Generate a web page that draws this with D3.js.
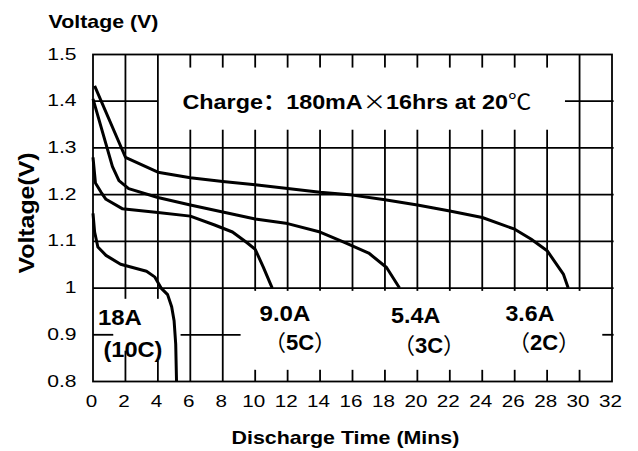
<!DOCTYPE html>
<html><head><meta charset="utf-8">
<script src="https://cdn.jsdelivr.net/npm/d3@7/dist/d3.min.js"></script>
<style>body{margin:0;background:#fff}svg{display:block}</style>
</head><body>
<svg id="c" width="638" height="451"></svg>
<script>
// ---------- data ----------
const xTickValues = [0,2,4,6,8,10,12,14,16,18,20,22,24,26,28,30,32];
const xTickLabels = ["0","2","4","6","8","10","12","14","16","18","20","22","24","26","28","30","32"];
const yTickValues = [0.8,0.9,1.0,1.1,1.2,1.3,1.4,1.5];
const yTickLabels = ["0.8","0.9","1","1.1","1.2","1.3","1.4","1.5"];

// 18A (10C)
const t18 = [0,0.1,0.3,0.8,1.7,3.3,3.8,4.2,4.6,4.85,5.0,5.1,5.15];
const v18 = [1.16,1.12,1.088,1.07,1.051,1.036,1.024,1.0,0.986,0.96,0.93,0.88,0.8];
// 9.0A (5C)
const t90 = [0,0.15,0.5,0.8,1.8,4,6,7.5,8.6,9.5,10,10.5,11.05];
const v90 = [1.28,1.225,1.205,1.19,1.17,1.162,1.154,1.135,1.12,1.097,1.083,1.045,1.0];
// 5.4A (3C)
const t54 = [0,1.2,1.6,2.2,4,6,8,10,12,14,15.5,17,18.1,18.9];
const v54 = [1.405,1.26,1.23,1.213,1.194,1.178,1.163,1.148,1.138,1.12,1.098,1.075,1.044,1.0];
// 3.6A (2C)
const t36 = [0.1,2,4,6,8,10,12,14,16,18,20,22,24,26,27,28,29,29.3];
const v36 = [1.433,1.28,1.248,1.236,1.228,1.221,1.213,1.205,1.199,1.189,1.178,1.165,1.151,1.126,1.105,1.08,1.03,1.0];

const seriesCurrent = ["18A","9.0A","5.4A","3.6A"];
const seriesRate = ["(10C)","5C","3C","2C"];

const titleText = "Voltage (V)";
const yAxisText = "Voltage(V)";
const xAxisText = "Discharge Time (Mins)";

// ---------- setup ----------
const svg = d3.select("#c");
const x = d3.scaleLinear().domain([0,32]).range([93,612]);
const y = d3.scaleLinear().domain([0.8,1.5]).range([381.5,54.5]);
const SANS = "'Liberation Sans', Arial, Helvetica, sans-serif";
const CJK = "'Noto Sans CJK SC', 'Noto Sans CJK JP', sans-serif";

// ---------- grid (with gaps left for the annotations) ----------
const TOP_TICK = 1.472, BOX_BOTTOM = 1.339, BELOW_1 = 0.977, JUST_BELOW_1 = 0.994, BOT_TICK = 0.825;
function vSegments(v){
  if (v === 2) return [[1.5,BELOW_1],[0.866,0.8]];
  if (v === 4) return [[1.5,BELOW_1],[0.845,0.8]];
  if (v === 6 || v === 8) return [[1.5,TOP_TICK],[BOX_BOTTOM,0.8]];
  if (v === 30) return [[1.5,JUST_BELOW_1],[BOT_TICK,0.8]];
  return [[1.5,TOP_TICK],[BOX_BOTTOM,JUST_BELOW_1],[BOT_TICK,0.8]];
}
function hSegments(v){
  if (Math.abs(v-1.4) < 1e-9) return [[-0.06,4],[29.1,32.1]];
  if (Math.abs(v-0.9) < 1e-9) return [[0,1.25],[5.4,9.1],[31.4,32.1]];
  return [[0,32.1]];
}
const grid = svg.append("g").attr("stroke","#000").attr("stroke-width",1.8);
xTickValues.filter(v => v > 0 && v < 32).forEach(v => {
  vSegments(v).forEach(s => grid.append("line")
    .attr("x1",x(v)).attr("x2",x(v)).attr("y1",y(s[0])).attr("y2",y(s[1])));
});
yTickValues.filter(v => v > 0.8 && v < 1.5).forEach(v => {
  hSegments(v).forEach(s => grid.append("line")
    .attr("y1",y(v)).attr("y2",y(v)).attr("x1",x(s[0])).attr("x2",x(s[1])));
});
svg.append("rect")
  .attr("x",x(0)).attr("y",y(1.5))
  .attr("width",x(32)-x(0)).attr("height",y(0.8)-y(1.5))
  .attr("fill","none").attr("stroke","#000").attr("stroke-width",1.8);

// ---------- curves ----------
const line = d3.line().x(d => x(d[0])).y(d => y(d[1])).curve(d3.curveLinear);
[[t18,v18],[t90,v90],[t54,v54],[t36,v36]].forEach(([t,v]) => {
  svg.append("path").datum(t.map((tt,i) => [tt, v[i]]))
    .attr("d", line).attr("fill","none").attr("stroke","#000")
    .attr("stroke-width",3).attr("stroke-linejoin","round").attr("stroke-linecap","butt");
});

// ---------- text helpers ----------
function fitStart(t, left, base, width){
  const w = t.node().getBBox().width;
  t.attr("x",0).attr("y",0).attr("transform",`translate(${left},${base}) scale(${width/w},1)`);
}

// ---------- axis tick labels ----------
svg.append("g").selectAll("text").data(yTickValues).join("text")
  .attr("text-anchor","end").attr("font-family",SANS).attr("font-size",16.5)
  .attr("transform", d => `translate(76.5,${y(d)+5}) scale(1.28,1)`)
  .text((d,i) => yTickLabels[i]);
svg.append("g").selectAll("text").data(xTickValues).join("text")
  .attr("text-anchor","middle").attr("font-family",SANS).attr("font-size",16.5)
  .attr("transform", d => `translate(${x(d)-1.5},407) scale(1.25,1)`)
  .text((d,i) => xTickLabels[i]);

// ---------- titles ----------
const tTitle = svg.append("text").attr("font-family",SANS).attr("font-weight","bold")
  .attr("font-size",18).text(titleText);
fitStart(tTitle, 48.5, 28, 110);

const tX = svg.append("text").attr("font-family",SANS).attr("font-weight","bold")
  .attr("font-size",18).text(xAxisText);
fitStart(tX, 231.5, 444, 228);

const tY = svg.append("text").attr("font-family",SANS).attr("font-weight","bold")
  .attr("font-size",22).attr("text-anchor","middle").text(yAxisText);
{
  const w = tY.node().getBBox().width;
  tY.attr("transform",`translate(34,213) rotate(-90) scale(${121/w},1)`);
}

// ---------- charge annotation ----------
const tC = svg.append("text").attr("font-family",SANS).attr("font-weight","bold").attr("font-size",21);
tC.append("tspan").text("Charge");
tC.append("tspan").attr("font-family",CJK).text("：");
tC.append("tspan").text("180mA");
tC.append("tspan").attr("font-family",CJK).attr("font-weight","normal").text("×");
tC.append("tspan").text("16hrs at 20");
tC.append("tspan").attr("font-family",CJK).attr("font-weight","normal").text("℃");
fitStart(tC, 182.5, 108.5, 349);

// ---------- series labels ----------
const curLabelPos = [[98,325,44],[259.5,320.7,51],[391,322.7,49.5],[505.5,320.7,49]];
seriesCurrent.forEach((s,i) => {
  const t = svg.append("text").attr("font-family",SANS).attr("font-weight","bold")
    .attr("font-size",22).text(s);
  fitStart(t, curLabelPos[i][0], curLabelPos[i][1], curLabelPos[i][2]);
});
// (10C) uses ASCII parentheses
{
  const t = svg.append("text").attr("font-family",SANS).attr("font-weight","bold")
    .attr("font-size",22).text(seriesRate[0]);
  fitStart(t, 103.5, 356.5, 59);
}
const rateCenters = [[300,350],[429,353],[544,350]];
seriesRate.slice(1).forEach((s,i) => {
  const t = svg.append("text").attr("font-size",22).attr("text-anchor","middle")
    .attr("x",rateCenters[i][0]).attr("y",rateCenters[i][1]);
  t.append("tspan").attr("font-family",CJK).text("（");
  t.append("tspan").attr("font-family",SANS).attr("font-weight","bold").text(s);
  t.append("tspan").attr("font-family",CJK).text("）");
});
</script>
</body></html>
